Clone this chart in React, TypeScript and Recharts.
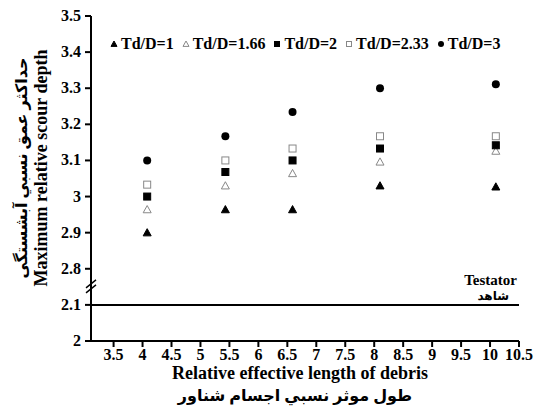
import React from "react";
import {
  ScatterChart,
  Scatter,
  XAxis,
  YAxis,
  Legend,
  ReferenceLine,
  ReferenceDot,
  Label,
} from "recharts";

const xValues = [4.08, 5.43, 6.59, 8.1, 10.1];
const td1 = [2.9, 2.964, 2.964, 3.03, 3.027];
const td166 = [2.964, 3.03, 3.064, 3.096, 3.126];
const td2 = [3.0, 3.068, 3.1, 3.133, 3.142];
const td233 = [3.033, 3.1, 3.133, 3.167, 3.167];
const td3 = [3.1, 3.167, 3.234, 3.3, 3.311];

const testatorValue = 2.1;
const xTicks = [3.5, 4, 4.5, 5, 5.5, 6, 6.5, 7, 7.5, 8, 8.5, 9, 9.5, 10, 10.5];
// axis is broken between 2.1 and 2.8, so values above the break are shifted down by 0.6
const breakShift = 0.6;
const yTicks = [2, 2.1, 2.2, 2.3, 2.4, 2.5, 2.6, 2.7, 2.8, 2.9];
const yTickLabels = ["2", "2.1", "2.8", "2.9", "3", "3.1", "3.2", "3.3", "3.4", "3.5"];

const FONT = "'Liberation Serif', 'DejaVu Serif', 'DejaVu Sans', serif";

type Kind = "tri" | "triOpen" | "sq" | "sqOpen" | "dot";

const series: { name: string; values: number[]; kind: Kind }[] = [
  { name: "Td/D=1", values: td1, kind: "tri" },
  { name: "Td/D=1.66", values: td166, kind: "triOpen" },
  { name: "Td/D=2", values: td2, kind: "sq" },
  { name: "Td/D=2.33", values: td233, kind: "sqOpen" },
  { name: "Td/D=3", values: td3, kind: "dot" },
];

const toPlot = (v: number) => (v >= 2.8 ? v - breakShift : v);

const Marker = ({ cx, cy, kind, s = 8 }: { cx: number; cy: number; kind: Kind; s?: number }) => {
  const h = s / 2;
  if (kind === "tri" || kind === "triOpen") {
    const open = kind === "triOpen";
    return (
      <polygon
        points={`${cx},${cy - h} ${cx + h},${cy + h * 0.8} ${cx - h},${cy + h * 0.8}`}
        fill={open ? "#fff" : "#000"}
        stroke={open ? "#888" : "#000"}
        strokeWidth={1}
      />
    );
  }
  if (kind === "sq" || kind === "sqOpen") {
    const open = kind === "sqOpen";
    return (
      <rect
        x={cx - h + 0.5}
        y={cy - h + 0.5}
        width={s - 1}
        height={s - 1}
        fill={open ? "#fff" : "#000"}
        stroke={open ? "#888" : "#000"}
        strokeWidth={1}
      />
    );
  }
  return <circle cx={cx} cy={cy} r={h} fill="#000" />;
};

const XTick = ({ x, y, payload }: any) => (
  <text x={x} y={y + 11} textAnchor="middle" fontFamily={FONT} fontWeight="bold" fontSize={16} fill="#000">
    {payload.value}
  </text>
);

const YTick = ({ x, y, index }: any) => (
  <text x={x} y={y + 5} textAnchor="end" fontFamily={FONT} fontWeight="bold" fontSize={16} fill="#000">
    {yTickLabels[index]}
  </text>
);

const CustomLegend = () => (
  <div
    style={{
      display: "flex",
      alignItems: "center",
      fontFamily: FONT,
      fontWeight: "bold",
      fontSize: 16,
      whiteSpace: "nowrap",
    }}
  >
    {series.map((s) => (
      <span key={s.name} style={{ display: "flex", alignItems: "center", marginRight: 8 }}>
        <svg width={8} height={8} style={{ marginRight: 3 }}>
          <Marker cx={4} cy={4} kind={s.kind} s={6} />
        </svg>
        {s.name}
      </span>
    ))}
  </div>
);

export default function App() {
  return (
    <div style={{ position: "absolute", left: 0, top: 0, background: "#fff" }}>
      <ScatterChart width={534} height={416} margin={{ top: 16, right: 15, bottom: 5, left: 0 }}>
        <XAxis
          type="number"
          dataKey="x"
          domain={[3.11, 10.5]}
          ticks={xTicks}
          allowDataOverflow
          height={70}
          stroke="#000"
          strokeWidth={2}
          tickSize={6}
          tickMargin={2}
          tick={<XTick />}
        >
          <Label
            content={({ viewBox }: any) => (
              <g fontFamily={FONT} fontWeight="bold" textAnchor="middle" fill="#000">
                <text x={viewBox.x + viewBox.width / 2 - 5} y={viewBox.y + 38} fontSize={18}>
                  Relative effective length of debris
                </text>
                <text x={viewBox.x + viewBox.width / 2 - 10} y={viewBox.y + 60} fontSize={16}>
                  طول موثر نسبي اجسام شناور
                </text>
              </g>
            )}
          />
        </XAxis>
        <YAxis
          type="number"
          dataKey="y"
          domain={[2, 2.9]}
          ticks={yTicks}
          allowDataOverflow
          width={91}
          stroke="#000"
          strokeWidth={2}
          tickSize={6}
          tickMargin={4}
          tick={<YTick />}
        >
          <Label
            content={({ viewBox }: any) => {
              const cy = viewBox.y + 152;
              return (
                <g fontFamily={FONT} fontWeight="bold" textAnchor="middle" fill="#000">
                  <text x={47} y={cy} fontSize={18} transform={`rotate(-90 47 ${cy})`}>
                    Maximum relative scour depth
                  </text>
                  <text x={27} y={cy} fontSize={16} transform={`rotate(-90 27 ${cy})`}>
                    حداكثر عمق نسبي آبشستگی
                  </text>
                </g>
              );
            }}
          />
        </YAxis>
        <Legend
          layout="vertical"
          align="center"
          verticalAlign="middle"
          content={() => <CustomLegend />}
          wrapperStyle={{ top: 35, left: 110, width: "auto" }}
        />
        <ReferenceLine
          y={testatorValue}
          stroke="#000"
          strokeWidth={2}
          label={({ viewBox }: any) => (
            <g fontFamily={FONT} fontWeight="bold" textAnchor="end" fill="#000">
              <text x={viewBox.x + viewBox.width - 2} y={viewBox.y - 20} fontSize={15}>
                Testator
              </text>
              <text x={viewBox.x + viewBox.width - 10} y={viewBox.y - 5} fontSize={12}>
                شاهد
              </text>
            </g>
          )}
        />
        <ReferenceDot
          x={3.11}
          y={2.15}
          ifOverflow="visible"
          shape={({ cx, cy }: any) => (
            <g stroke="#000" strokeWidth={1.5}>
              <line x1={cx - 5} y1={cy + 1} x2={cx + 5} y2={cy - 7} />
              <line x1={cx - 5} y1={cy + 6} x2={cx + 5} y2={cy - 2} />
            </g>
          )}
        />
        {series.map((s) => (
          <Scatter
            key={s.name}
            name={s.name}
            data={xValues.map((x, i) => ({ x, y: toPlot(s.values[i]) }))}
            isAnimationActive={false}
            shape={(p: any) => <Marker cx={p.cx} cy={p.cy} kind={s.kind} />}
          />
        ))}
      </ScatterChart>
    </div>
  );
}
